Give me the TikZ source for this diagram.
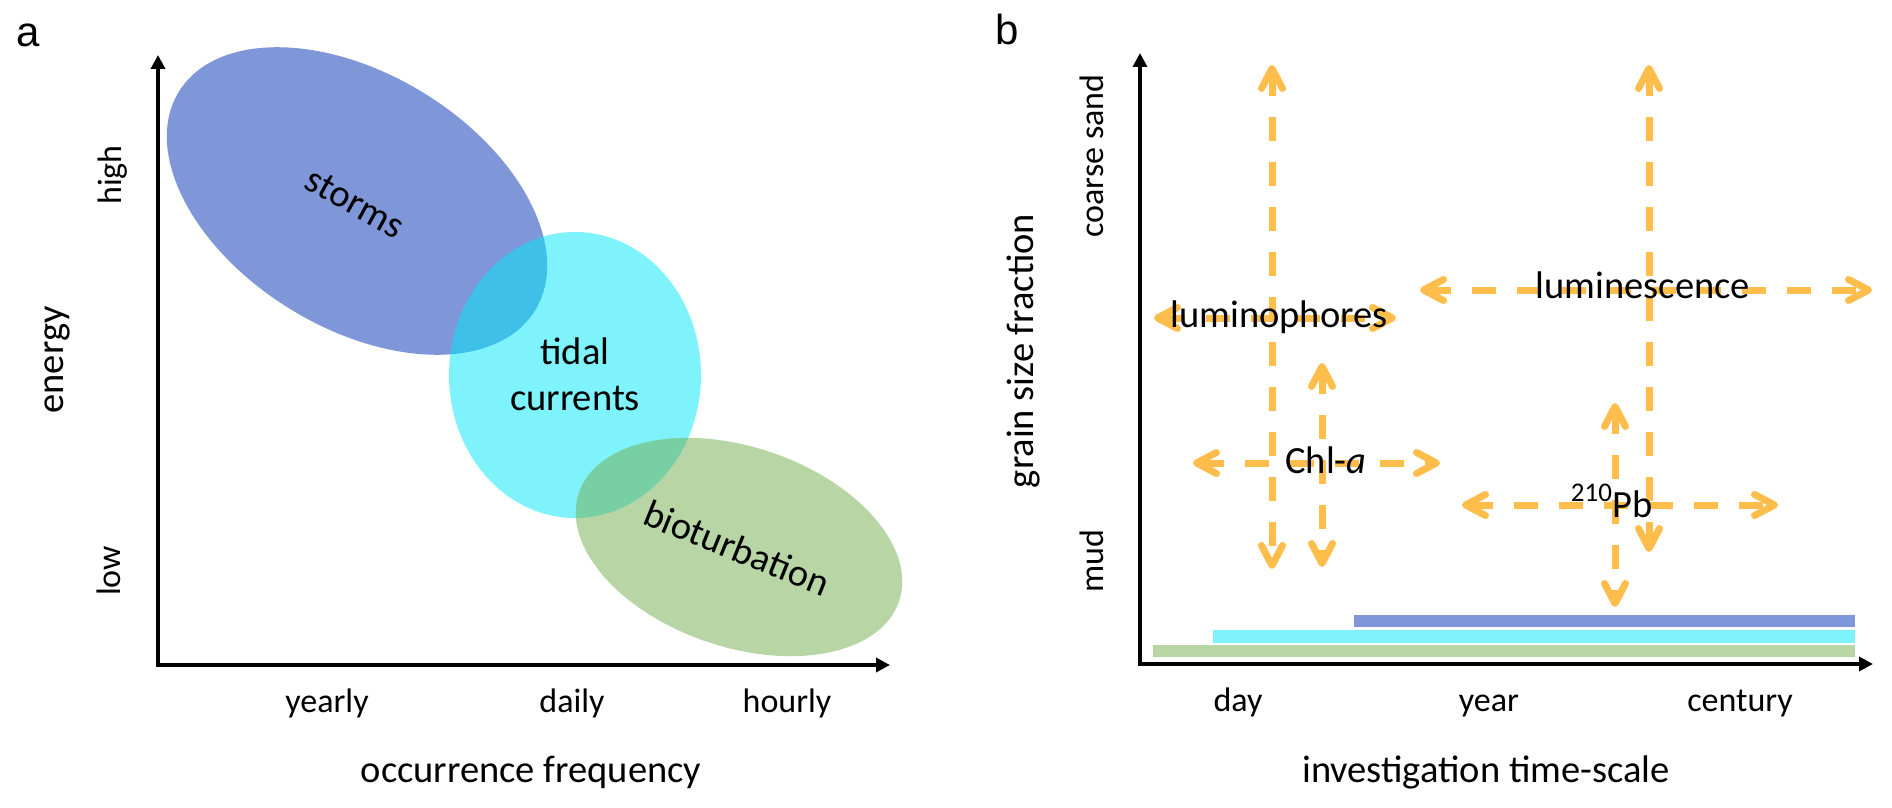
\documentclass[tikz,border=0pt]{standalone}
\usepackage{fontspec}
\setmainfont{Carlito}
\newfontfamily\panelfont{Liberation Sans}
\usetikzlibrary{arrows.meta}
\definecolor{stormC}{RGB}{127,151,217}
\definecolor{tideC}{RGB}{0,233,249}
\definecolor{bioC}{RGB}{113,173,77}
\definecolor{arrC}{RGB}{255,190,75}
\begin{document}
\begin{tikzpicture}[x=0.5pt,y=-0.5pt,
  big/.style={font=\fontsize{19.25pt}{23pt}\selectfont, inner sep=0pt},
  tick/.style={font=\fontsize{17pt}{20pt}\selectfont, inner sep=0pt},
  panel/.style={font=\panelfont\fontsize{21pt}{24pt}\selectfont, inner sep=0pt, anchor=base},
  axisline/.style={line width=2.25pt, >={Triangle[length=7pt,width=7pt]}, <->},
  barb/.style={draw=arrC, line width=3.5pt, dash pattern=on 12pt off 10.5pt,
    >={Straight Barb[length=10pt,width=10.5pt,round]}, <->}]
\useasboundingbox (0,0) rectangle (1892,808);
\fill[white] (0,0) rectangle (1892,808);

% ---------------- panel a ----------------
\fill[stormC, rotate around={-31.5:(357,201)}] (357,201) ellipse [x radius=209, y radius=127];
\fill[tideC, fill opacity=0.5] (575,375) ellipse [x radius=126, y radius=143];
\fill[bioC, fill opacity=0.5, rotate around={-18.7:(739,547)}] (739,547) ellipse [x radius=169, y radius=100];

\coordinate (aTop) at (158,55);
\coordinate (aO) at (158,665);
\coordinate (aRight) at (890,665);
\draw[axisline] (aTop) -- (aO) -- (aRight);

\node[panel] (la) at (28,47) {a};
\node[big, rotate=-29] (storms) at (355,203) {storms};
\node[big, anchor=base] (tidal1) at (575,364) {tidal};
\node[big, anchor=base] (tidal2) at (575,410) {currents};
\node[big, rotate=-22] (bio) at (737,548) {bioturbation};
\node[big, anchor=base, rotate=90] (energy) at (63,360) {energy};
\node[tick, anchor=base, rotate=90] (high) at (121,175) {high};
\node[tick, anchor=base, rotate=90] (low) at (120,571) {low};
\node[tick, anchor=base] (yearly) at (327,712) {yearly};
\node[tick, anchor=base] (daily) at (572,712) {daily};
\node[tick, anchor=base] (hourly) at (787,712) {hourly};
\node[big, anchor=base] (occ) at (531,782) {occurrence frequency};

% ---------------- panel b ----------------
\fill[stormC] (1354,615) rectangle (1855,627);
\fill[tideC, fill opacity=0.5] (1213,630) rectangle (1855,643);
\fill[bioC, fill opacity=0.5] (1153,645) rectangle (1855,657);

\coordinate (bTop) at (1140,53);
\coordinate (bO) at (1140,664);
\coordinate (bRight) at (1873,664);
\draw[axisline] (bTop) -- (bO) -- (bRight);

\coordinate (lpT) at (1272,65);  \coordinate (lpB) at (1272,569);
\coordinate (lpL) at (1154,318); \coordinate (lpR) at (1396,318);
\coordinate (chT) at (1322,363); \coordinate (chB) at (1322,567);
\coordinate (chL) at (1193,463); \coordinate (chR) at (1440,463);
\coordinate (lsT) at (1649,65);  \coordinate (lsB) at (1649,552);
\coordinate (lsL) at (1420,290); \coordinate (lsR) at (1872,290);
\coordinate (pbT) at (1615,403); \coordinate (pbB) at (1615,607);
\coordinate (pbL) at (1462,505); \coordinate (pbR) at (1778,505);

\draw[barb] (lpT) -- (lpB);
\draw[barb] (lpL) -- (lpR);
\draw[barb] (chT) -- (chB);
\draw[barb] (chL) -- (chR);
\draw[barb] (lsT) -- (lsB);
\draw[barb] (lsL) -- (lsR);
\draw[barb] (pbT) -- (pbB);
\draw[barb] (pbL) -- (pbR);

\node[panel] (lb) at (1007,45) {b};
\node[big, anchor=base, rotate=90] (grain) at (1033,351) {grain size fraction};
\node[tick, anchor=base, rotate=90] (coarse) at (1103,156) {coarse sand};
\node[tick, anchor=base, rotate=90] (mud) at (1103,561) {mud};
\node[tick, anchor=base] (day) at (1238,711) {day};
\node[tick, anchor=base] (year) at (1489,711) {year};
\node[tick, anchor=base] (century) at (1740,711) {century};
\node[big, anchor=base] (inv) at (1486,782) {investigation time-scale};
\node[big, anchor=base] (lumph) at (1279,327) {luminophores};
\node[big, anchor=base] (lumsc) at (1643,299) {luminescence};
\node[big, anchor=base] (chl) at (1326,473) {Chl-\textit{a}};
\node[big, anchor=base] (pb) at (1612,517) {\textsuperscript{210}Pb};
\end{tikzpicture}
\end{document}
